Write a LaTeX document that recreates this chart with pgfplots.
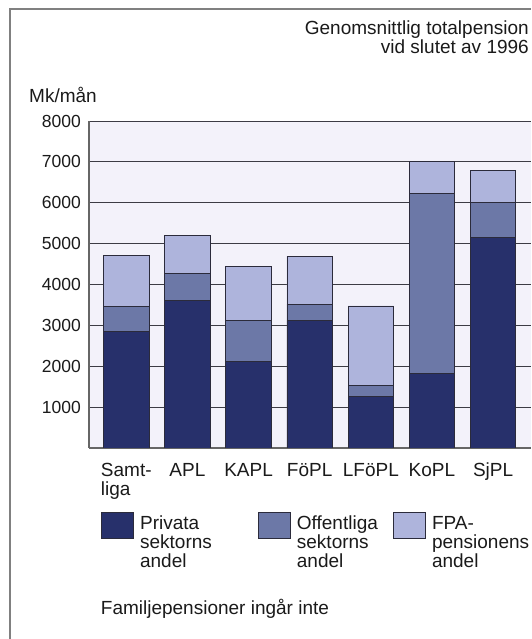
\documentclass[border=0pt]{standalone}
\usepackage{fontspec}
\setmainfont{Liberation Sans}
\usepackage{pgfplots}
\pgfplotsset{compat=1.18}
\definecolor{cPriv}{HTML}{27306B}
\definecolor{cPub}{HTML}{6C78A7}
\definecolor{cFPA}{HTML}{AEB4DC}
\definecolor{edgec}{HTML}{2B2B3B}
\definecolor{bgc}{HTML}{F3F2FA}
\definecolor{gridc}{HTML}{3C3C44}
\definecolor{framec}{HTML}{808080}
\definecolor{txt}{HTML}{1A1A1A}

% legend square: top aligned with first text line
\newcommand{\legsq}[1]{\draw[fill=#1, draw=edgec, line width=0.8pt] (0pt,-9.3pt) rectangle (32pt,16.7pt); \path (38.6pt,0pt);}
\newcommand{\bigf}{\fontsize{19}{18}\selectfont}

\begin{document}
\bigf
\color{txt}
\begin{tikzpicture}[font=\bigf]
\begin{axis}[
  at={(0pt,0pt)}, anchor=south west,
  scale only axis,
  width=442pt, height=327pt,
  xmin=-0.61, xmax=6.62,
  ymin=0, ymax=8000,
  ybar stacked,
  bar width=45.5pt,
  axis x line*=bottom,
  axis y line*=left,
  axis line style={draw=framec!80!black, line width=1.2pt},
  axis background/.style={fill=bgc},
  ytick={1000,2000,...,8000},
  ymajorgrids,
  grid style={draw=gridc, line width=0.8pt},
  major tick length=0pt,
  /pgf/number format/assume math mode=true,
  /pgf/number format/1000 sep={},
  yticklabel style={font=\fontsize{17.5}{18}\selectfont, anchor=east, inner sep=0pt, xshift=-8pt},
  xtick={0,...,6},
  xticklabels={{\begin{tabular}[t]{@{}l@{}}Samt-\\liga\end{tabular}},APL,KAPL,FöPL,LFöPL,KoPL,SjPL},
  xticklabel style={font=\bigf, anchor=base, inner sep=0pt, yshift=-28.7pt},
  legend columns=3,
  legend style={at={(axis description cs:0.0265,-0.1966)}, anchor=north west,
    draw=none, fill=none, inner sep=0pt, outer sep=0pt,
    column sep=0pt, row sep=0pt, font=\bigf,
    cells={anchor=base west}, nodes={inner sep=0pt}},
]
\addplot[fill=cPriv, draw=edgec, line width=0.8pt,
  legend image code/.code={\legsq{cPriv}}] coordinates {
  (0,2850) (1,3600) (2,2125) (3,3120) (4,1265) (5,1815) (6,5155)
};
\addlegendentry{\begin{tabular}[t]{@{}p{117.4pt}@{}}Privata\\sektorns\\andel\end{tabular}}
\addplot[fill=cPub, draw=edgec, line width=0.8pt,
  legend image code/.code={\legsq{cPub}}] coordinates {
  (0,620) (1,665) (2,990) (3,400) (4,265) (5,4420) (6,850)
};
\addlegendentry{\begin{tabular}[t]{@{}p{95.7pt}@{}}Offentliga\\sektorns\\andel\end{tabular}}
\addplot[fill=cFPA, draw=edgec, line width=0.8pt,
  legend image code/.code={\legsq{cFPA}}] coordinates {
  (0,1230) (1,925) (2,1325) (3,1170) (4,1945) (5,765) (6,795)
};
\addlegendentry{\begin{tabular}[t]{@{}l@{}}FPA-\\pensionens\\andel\end{tabular}}
\end{axis}
\node[anchor=base east, inner sep=0pt] at (440pt,413pt) {Genomsnittlig totalpension};
\node[anchor=base east, inner sep=0pt] at (440pt,394pt) {vid slutet av 1996};
\node[anchor=base west, inner sep=0pt] at (-60pt,345pt) {Mk/mån};
\node[anchor=base west, inner sep=0pt] at (11.7pt,-166.7pt) {Familjepensioner ingår inte};
\draw[framec, line width=1.5pt] (-79pt,-191pt) -- (-79pt,439pt) -- (442pt,439pt);
\pgfresetboundingbox
\useasboundingbox (-89pt,-191pt) rectangle (442pt,448pt);
\end{tikzpicture}
\end{document}
